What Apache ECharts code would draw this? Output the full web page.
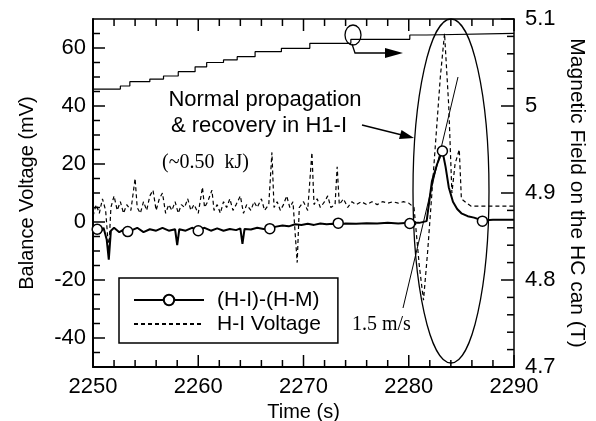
<!DOCTYPE html>
<html lang="en">
<head>
<meta charset="UTF-8">
<title>Balance voltage</title>
<script src="https://cdn.jsdelivr.net/npm/echarts@6/dist/echarts.min.js"></script>
<style>body{margin:0;background:#fff}</style>
</head>
<body>
<div id="main" style="width:596px;height:421px;"></div>
<script>
// axis ticks
var timeTicks = [2250, 2260, 2270, 2280, 2290];
var timeMinor = [2252, 2254, 2256, 2258, 2262, 2264, 2266, 2268, 2272, 2274, 2276, 2278, 2282, 2284, 2286, 2288];
var voltTicks = [-40, -20, 0, 20, 40, 60];
var voltMinor = [-45, -35, -30, -25, -15, -10, -5, 5, 10, 15, 25, 30, 35, 45, 50, 55, 65];
var fieldTicks = [4.7, 4.8, 4.9, 5, 5.1];
var fieldMinor = [4.72, 4.74, 4.76, 4.78, 4.82, 4.84, 4.86, 4.88, 4.92, 4.94, 4.96, 4.98, 5.02, 5.04, 5.06, 5.08];

// magnetic field on the HC can (T), staircase
var fieldTime = [2250, 2252.6, 2253.5, 2255.4, 2256.7, 2258.1, 2259.7, 2260.8, 2262.4, 2263.7, 2265.4, 2267.9, 2270.6, 2274.5, 2280.1, 2281.7, 2290];
var fieldValue = [5.0195, 5.023, 5.028, 5.031, 5.0345, 5.0395, 5.045, 5.050, 5.053, 5.0567, 5.0624, 5.0663, 5.072, 5.0766, 5.0816, 5.0835, 5.0835];

// (H-I)-(H-M) balance voltage (mV)
var hmTime = [2250, 2250.3, 2250.6, 2251, 2251.3, 2251.5, 2251.7, 2252, 2252.5, 2253, 2253.6, 2254.2, 2254.8, 2255.4, 2256, 2256.6, 2257.2, 2257.8, 2258.0, 2258.2,
  2258.8, 2259.4, 2260, 2260.6, 2261.2, 2261.8, 2262.4, 2263, 2263.6, 2264.0, 2264.2, 2264.4, 2265, 2265.6, 2266.2, 2266.8, 2267.4, 2268, 2268.6, 2269.2,
  2269.8, 2270.4, 2271, 2271.6, 2272.2, 2272.8, 2273.4, 2274, 2275, 2276, 2277, 2278, 2279, 2280, 2281, 2281.7, 2282.2, 2282.7, 2283.2, 2283.5,
  2283.8, 2284.2, 2284.6, 2285, 2285.6, 2286.2, 2287, 2288, 2289, 2290];
var hmValue = [-3, -1.5, -4, -2, -6, -13, -3, -2, -3.5, -2.5, -3, -2, -3.5, -2.5, -3, -2, -3, -2.5, -8, -2.5,
  -3, -2, -2.8, -2, -3, -2.2, -3, -2.4, -2.8, -2.2, -7.5, -2.4, -2.6, -2, -2.4, -2.2, -1.6, -1.2, -1.5, -0.8,
  -1.0, -0.6, -1.0, -0.5, -0.8, -0.6, -0.8, -0.5, -0.6, -0.4, -0.5, -0.3, -0.5, -0.3, -0.3, 0.3, 14, 20, 24.5, 19,
  12, 7, 4.5, 3, 2, 1.5, 0.5, 0.8, 0.8, 0.8];
var hmMarkTime = [2250.4, 2253.3, 2260.0, 2266.8, 2273.3, 2280.1, 2283.2, 2287.0];
var hmMarkValue = [-2.5, -3.3, -3, -2.3, -0.4, -0.5, 24.5, 0.3];

// H-I voltage (mV)
var hiTime = [2250.0, 2250.3, 2250.6, 2250.9, 2251.2, 2251.5, 2251.7, 2252.0, 2252.3, 2252.6, 2252.9, 2253.2, 2253.6, 2254.0, 2254.2, 2254.5, 2254.8, 2255.1, 2255.4, 2255.7,
  2256.0, 2256.3, 2256.6, 2256.9, 2257.2, 2257.5, 2257.8, 2258.1, 2258.4, 2258.7, 2259.0, 2259.3, 2259.6, 2260.0, 2260.4, 2260.6, 2260.9, 2261.3, 2261.5, 2261.8,
  2262.1, 2262.4, 2262.7, 2263.0, 2263.3, 2263.6, 2264.0, 2264.3, 2264.6, 2265.0, 2265.3, 2265.6, 2266.0, 2266.3, 2266.7, 2267.0, 2267.2, 2267.5, 2267.8, 2268.1,
  2268.4, 2268.7, 2269.0, 2269.4, 2269.6, 2270.0, 2270.4, 2270.8, 2271.0, 2271.3, 2271.6, 2272.0, 2272.3, 2272.6, 2273.0, 2273.2, 2273.4, 2273.8, 2274.2, 2274.6,
  2275.0, 2275.5, 2276.0, 2276.5, 2277.0, 2277.5, 2278.0, 2278.5, 2279.0, 2279.5, 2280.0, 2280.5, 2281.0, 2281.4, 2281.8, 2282.2, 2282.6, 2283.0, 2283.4, 2283.8,
  2284.1, 2284.4, 2284.8, 2285.0, 2285.5, 2285.9, 2290];
var hiValue = [2, 6, 3, 8, 4, -10, 5, 9, 4, 7, 3, 6, 4, 15, 5, 3, 7, 4, 9, 11,
  4, 8, 10, 3, 6, 4, 7, 3, 6, 5, 8, 4, 6, 3, 12, 5, 7, 11, 4, 6,
  3, 7, 5, 8, 4, 6, 9, 3, 6, 4, 7, 5, 8, 4, 6, 24, 5, 7, 4, 6,
  9, 5, 7, -14, 5, 7, 4, 24, 6, 8, 5, 7, 9, 5, 6, 19, 6, 8, 5, 7,
  6, 7, 6, 7, 6, 7, 6.5, 7, 6.5, 7, 6.5, 5, -15, -27, -10, 10, 30, 50, 65, 40,
  10, 20, 25, 8, 6.5, 5.5, 5.5];

function pairs(xs, ys) {
  return xs.map(function (x, i) { return [x, ys[i]]; });
}

var sans = 'Liberation Sans, Arial, Helvetica, sans-serif';
var serif = 'Liberation Serif, Times New Roman, serif';
var black = '#000';

var chart = echarts.init(document.getElementById('main'));

function xAx(pos) {
  return {
    type: 'value', position: pos,
    min: timeTicks[0], max: timeTicks[timeTicks.length - 1], interval: 10,
    name: pos === 'bottom' ? 'Time (s)' : '',
    nameLocation: 'middle', nameGap: 30,
    nameTextStyle: { fontFamily: sans, fontSize: 20, color: black },
    axisLine: { show: true, onZero: false, lineStyle: { color: black, width: pos === 'bottom' ? 2 : 1.5 } },
    axisTick: { show: false },
    minorTick: { show: false },
    axisLabel: { show: pos === 'bottom', fontFamily: sans, fontSize: 22, color: black, margin: 9,
      formatter: function (v) { return String(v); } },
    splitLine: { show: false }
  };
}

chart.setOption({
  animation: false,
  grid: { left: 93, right: 82, top: 19, bottom: 54, outerBoundsMode: 'none' },
  xAxis: [xAx('bottom'), xAx('top')],
  yAxis: [{
    type: 'value', position: 'left', min: -50, max: 70, interval: 5,
    name: 'Balance Voltage (mV)', nameLocation: 'middle', nameGap: 56,
    nameTextStyle: { fontFamily: sans, fontSize: 20, color: black },
    axisLine: { show: true, onZero: false, lineStyle: { color: black, width: 2 } },
    axisTick: { show: false },
    axisLabel: { customValues: voltTicks, fontFamily: sans, fontSize: 22, color: black, margin: 7 },
    splitLine: { show: false }
  }, {
    type: 'value', position: 'right',
    min: fieldTicks[0], max: fieldTicks[fieldTicks.length - 1], interval: 0.1,
    name: 'Magnetic Field on the HC can (T)', nameLocation: 'middle', nameGap: 50, nameRotate: -90,
    nameTextStyle: { fontFamily: sans, fontSize: 21, color: black },
    axisLine: { show: true, onZero: false, lineStyle: { color: black, width: 1.5 } },
    axisTick: { show: false },
    minorTick: { show: false },
    axisLabel: { fontFamily: sans, fontSize: 22, color: black, margin: 11 },
    splitLine: { show: false }
  }],
  legend: {
    left: 119, top: 278, orient: 'vertical',
    itemWidth: 70, itemHeight: 13, itemGap: 2,
    padding: [11, 17, 8, 14],
    borderColor: black, borderWidth: 1.5, backgroundColor: '#fff',
    selectedMode: false,
    textStyle: { fontFamily: sans, fontSize: 21, color: black, lineHeight: 22, padding: [0, 0, 0, 8] },
    data: ['(H-I)-(H-M)', { name: 'H-I Voltage', itemStyle: { opacity: 0 } }]
  },
  series: [{
    type: 'line', yAxisIndex: 1, step: 'end', symbol: 'none',
    lineStyle: { color: black, width: 1.2 },
    data: pairs(fieldTime, fieldValue), z: 2
  }, {
    name: 'H-I Voltage', type: 'line', symbol: 'none',
    lineStyle: { color: black, width: 1.2, type: [4, 3] },
    itemStyle: { color: black },
    data: pairs(hiTime, hiValue), z: 3
  }, {
    name: '(H-I)-(H-M)', type: 'line', symbol: 'emptyCircle', showSymbol: false,
    lineStyle: { color: black, width: 2 },
    itemStyle: { color: black },
    data: pairs(hmTime, hmValue), z: 4
  }, {
    type: 'scatter', symbol: 'circle', symbolSize: 10,
    itemStyle: { color: '#fff', borderColor: black, borderWidth: 1.5, opacity: 1 },
    data: pairs(hmMarkTime, hmMarkValue), z: 5
  }]
});

// annotations
var notes = [
  { type: 'ellipse', silent: true, shape: { cx: 451, cy: 191, rx: 38, ry: 172 },
    style: { fill: 'none', stroke: black, lineWidth: 1.3 } },
  { type: 'ellipse', silent: true, shape: { cx: 353, cy: 35, rx: 8, ry: 10 },
    style: { fill: 'none', stroke: black, lineWidth: 1.3 } },
  { type: 'polyline', silent: true, shape: { points: [[352, 44], [355, 53], [390, 53]] },
    style: { fill: 'none', stroke: black, lineWidth: 1.3 } },
  { type: 'polygon', silent: true, shape: { points: [[403, 53], [385, 48], [385, 58]] },
    style: { fill: black } },
  { type: 'line', silent: true, shape: { x1: 362, y1: 125, x2: 402, y2: 135 },
    style: { stroke: black, lineWidth: 1.3 } },
  { type: 'polygon', silent: true, shape: { points: [[414, 138], [399, 139], [401.5, 130]] },
    style: { fill: black } },
  { type: 'line', silent: true, shape: { x1: 403, y1: 308, x2: 458, y2: 77 },
    style: { stroke: black, lineWidth: 1 } },
  { type: 'text', silent: true, x: 265, y: 100,
    style: { text: 'Normal propagation', font: '22px ' + sans, fill: black,
      textAlign: 'center', textVerticalAlign: 'middle', align: 'center', verticalAlign: 'middle' } },
  { type: 'text', silent: true, x: 259, y: 126,
    style: { text: '& recovery in H1-I', font: '22px ' + sans, fill: black,
      textAlign: 'center', textVerticalAlign: 'middle', align: 'center', verticalAlign: 'middle' } },
  { type: 'text', silent: true, x: 162, y: 163,
    style: { text: '(~0.50  kJ)', font: '20px ' + serif, fill: black,
      textAlign: 'left', textVerticalAlign: 'middle', align: 'left', verticalAlign: 'middle' } },
  { type: 'text', silent: true, x: 352, y: 325,
    style: { text: '1.5 m/s', font: '20px ' + serif, fill: black,
      textAlign: 'left', textVerticalAlign: 'middle', align: 'left', verticalAlign: 'middle' } }
];

// inward tick marks on the frame, placed with the axes' own scales
var xL = chart.convertToPixel({ xAxisIndex: 0 }, timeTicks[0]);
var xR = chart.convertToPixel({ xAxisIndex: 0 }, timeTicks[timeTicks.length - 1]);
var yB = chart.convertToPixel({ yAxisIndex: 1 }, fieldTicks[0]);
var yT = chart.convertToPixel({ yAxisIndex: 1 }, fieldTicks[fieldTicks.length - 1]);
function seg(x1, y1, x2, y2) {
  return { type: 'line', silent: true, z: 10, shape: { x1: x1, y1: y1, x2: x2, y2: y2 },
    style: { stroke: black, lineWidth: 1.5 } };
}
var ticks = [];
function timeMarks(list, len) {
  list.forEach(function (t) {
    var x = chart.convertToPixel({ xAxisIndex: 0 }, t);
    ticks.push(seg(x, yB, x, yB - len), seg(x, yT, x, yT + len));
  });
}
function voltMarks(list, len) {
  list.forEach(function (v) {
    var y = chart.convertToPixel({ yAxisIndex: 0 }, v);
    ticks.push(seg(xL, y, xL + len, y));
  });
}
function fieldMarks(list, len) {
  list.forEach(function (v) {
    var y = chart.convertToPixel({ yAxisIndex: 1 }, v);
    ticks.push(seg(xR, y, xR - len, y));
  });
}
timeMarks(timeTicks, 12);
timeMarks(timeMinor, 7);
voltMarks(voltTicks, 12);
voltMarks(voltMinor, 7);
fieldMarks(fieldTicks, 13);
fieldMarks(fieldMinor, 7);

chart.setOption({ graphic: notes.concat(ticks) });
</script>
</body>
</html>
